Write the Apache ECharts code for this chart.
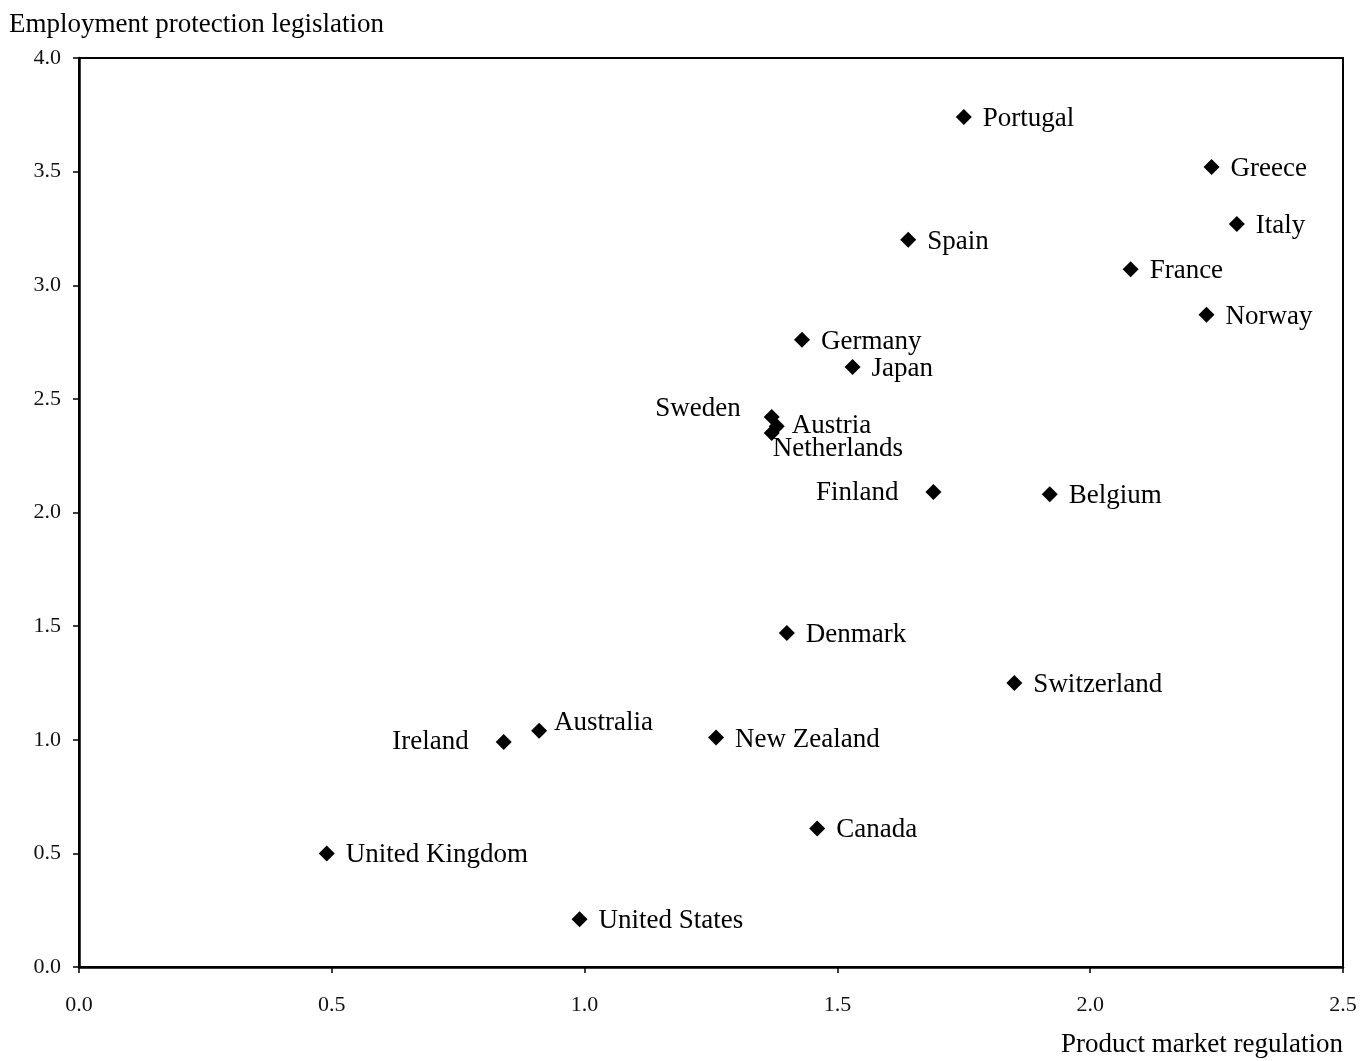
<!DOCTYPE html>
<html><head><meta charset="utf-8">
<script src="https://cdn.jsdelivr.net/npm/echarts@6/dist/echarts.min.js"></script>
<style>html,body{margin:0;padding:0;background:#fff}#c{width:1363px;height:1061px}</style>
</head><body><div id="c"></div>
<script>
const countries = ["Portugal","Greece","Italy","Spain","France","Norway","Germany","Japan","Sweden","Austria","Netherlands","Finland","Belgium","Denmark","Switzerland","Australia","Ireland","New Zealand","Canada","United Kingdom","United States"];
const pmr = [1.75,2.24,2.29,1.64,2.08,2.23,1.43,1.53,1.37,1.38,1.37,1.69,1.92,1.40,1.85,0.91,0.84,1.26,1.46,0.49,0.99];
const epl = [3.74,3.52,3.27,3.20,3.07,2.87,2.76,2.64,2.42,2.38,2.35,2.09,2.08,1.47,1.25,1.04,0.99,1.01,0.61,0.50,0.21];
const xTicks = ["0.0","0.5","1.0","1.5","2.0","2.5"];
const yTicks = ["0.0","0.5","1.0","1.5","2.0","2.5","3.0","3.5","4.0"];

const font = '"Liberation Serif", "DejaVu Serif", serif';
const labelPlace = {
  "Sweden": {position:"left", offset:[-18,-8]},
  "Ireland": {position:"left", offset:[-22,0]},
  "Finland": {position:"left", offset:[-22,1]},
  "Austria": {position:"right", offset:[2,0]},
  "Netherlands": {position:"right", offset:[-12,16]},
  "Australia": {position:"right", offset:[2,-8]}
};
const data = countries.map((n,i)=>{
  const p = labelPlace[n] || {position:"right", offset:[6,2]};
  return {name:n, value:[pmr[i],epl[i]], label:{position:p.position, offset:p.offset}};
});
const chart = echarts.init(document.getElementById('c'));
chart.setOption({
  animation:false,
  backgroundColor:'#fff',
  grid:{left:79,right:20,top:58,bottom:94,show:true,borderColor:'#000',borderWidth:2,backgroundColor:'transparent'},
  xAxis:{type:'value',min:0,max:2.5,interval:0.5,
    axisLine:{lineStyle:{color:'#000',width:2.5}},
    axisTick:{show:true,inside:false,length:6,lineStyle:{color:'#000',width:1.5}},
    splitLine:{show:false},
    axisLabel:{margin:27,color:'#111',fontFamily:font,fontSize:22,formatter:(v)=>xTicks[Math.round(v/0.5)]},
    name:'Product market regulation',nameLocation:'end',nameGap:0,
    nameTextStyle:{fontFamily:font,fontSize:27,color:'#000',align:'right',verticalAlign:'top',padding:[64,0,0,0]}
  },
  yAxis:{type:'value',min:0,max:4,interval:0.5,
    axisLine:{show:true,lineStyle:{color:'#000',width:2.5}},
    axisTick:{show:true,length:6,lineStyle:{color:'#000',width:1.5}},
    splitLine:{show:false},
    axisLabel:{margin:18,color:'#111',fontFamily:font,fontSize:22,formatter:(v)=>yTicks[Math.round(v/0.5)]},
    name:'Employment protection legislation',nameLocation:'end',nameGap:20,
    nameTextStyle:{fontFamily:font,fontSize:27,color:'#000',align:'left',padding:[0,0,0,-70]}
  },
  series:[{type:'scatter',symbol:'diamond',symbolSize:16,
    itemStyle:{color:'#000',opacity:1},
    label:{show:true,formatter:'{b}',fontFamily:font,fontSize:27,color:'#000'},
    data:data}]
});
</script></body></html>
